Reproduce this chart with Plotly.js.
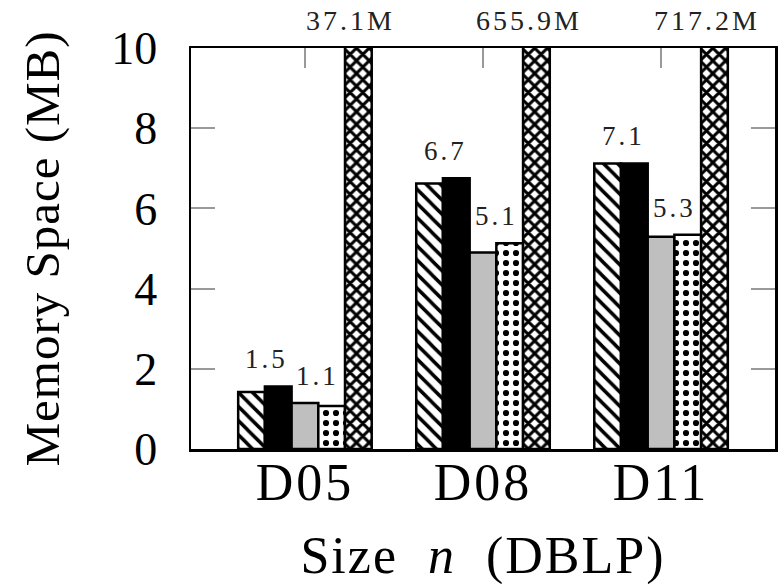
<!DOCTYPE html>
<html>
<head>
<meta charset="utf-8">
<script src="https://cdn.plot.ly/plotly-3.0.1.min.js"></script>
<style>
html,body{margin:0;padding:0;background:#fff;}
#chart{width:782px;height:585px;}
.xtitle{letter-spacing:2px;}
.ytitle{letter-spacing:1px;}
.xtick text{letter-spacing:3px;}
.annotation-text{letter-spacing:3px;}
</style>
</head>
<body>
<div id="chart"></div>
<script>
// ---- data ----
const categories = ['D05', 'D08', 'D11'];
const hatchVals = [1.42, 6.62, 7.12];
const blackVals = [1.56, 6.75, 7.12];
const grayVals  = [1.15, 4.90, 5.29];
const dotVals   = [1.07, 5.13, 5.34];
const crossVals = [37.1, 655.9, 717.2];
const leftLabels  = ['1.5', '6.7', '7.1'];
const rightLabels = ['1.1', '5.1', '5.3'];
const topLabels   = ['37.1M', '655.9M', '717.2M'];
const yTickVals = [0, 2, 4, 6, 8, 10];

const FONT = 'Liberation Serif, Times New Roman, serif';
const outline = {color: '#000', width: 2.5};

function barTrace(name, vals, color, pattern) {
  const m = {color: color, line: outline};
  if (pattern) m.pattern = pattern;
  return {type: 'bar', name: name, x: categories, y: vals, marker: m,
          hoverinfo: 'skip', cliponaxis: true};
}

const traces = [
  barTrace('A', hatchVals, '#fff', {shape: '\\', fgcolor: '#000', bgcolor: '#fff', size: 10, solidity: 0.35, fillmode: 'replace'}),
  barTrace('B', blackVals, '#000', null),
  barTrace('C', grayVals, '#bfbfbf', null),
  barTrace('D', dotVals, '#fff', {shape: '.', fgcolor: '#000', bgcolor: '#fff', size: 10, solidity: 0.3, fillmode: 'replace'}),
  barTrace('E', crossVals, '#fff', {shape: 'x', fgcolor: '#000', bgcolor: '#fff', size: 9, solidity: 0.55, fillmode: 'replace'})
];

const annotations = [];
categories.forEach((c, i) => {
  annotations.push({x: c, y: Math.max(hatchVals[i], blackVals[i]), xref: 'x', yref: 'y',
    text: leftLabels[i], showarrow: false, xshift: -38, yshift: 27, yanchor: 'middle',
    font: {family: FONT, size: 27, color: '#222'}});
  annotations.push({x: c, y: Math.max(grayVals[i], dotVals[i]), xref: 'x', yref: 'y',
    text: rightLabels[i], showarrow: false, xshift: 13, yshift: 27, yanchor: 'middle',
    font: {family: FONT, size: 27, color: '#222'}});
  annotations.push({x: c, y: 1, xref: 'x', yref: 'paper',
    text: topLabels[i], showarrow: false, xshift: 46, yshift: 10, yanchor: 'bottom',
    font: {family: FONT, size: 28, color: '#222'}});
});

const layout = {
  width: 782, height: 585,
  margin: {l: 191, r: 7, t: 48, b: 136},
  paper_bgcolor: '#fff', plot_bgcolor: '#fff',
  showlegend: false,
  barmode: 'group', bargap: 0.25, bargroupgap: 0,
  font: {family: FONT, color: '#000'},
  xaxis: {
    type: 'category', range: [-0.64, 2.64],
    showline: true, linecolor: '#000', linewidth: 2.5, mirror: 'allticks',
    ticks: 'inside', ticklen: 20, tickwidth: 2, tickcolor: '#999',
    layer: 'below traces', showgrid: false, zeroline: false, ticklabelstandoff: -14,
    tickfont: {family: FONT, size: 52, color: '#000'},
    title: {text: 'Size&nbsp;&nbsp;<i>n</i>&nbsp;&nbsp;(DBLP)', font: {family: FONT, size: 52, color: '#000'}, standoff: 28}
  },
  yaxis: {
    range: [0, 10], tickvals: yTickVals, ticktext: yTickVals.map(String),
    showline: true, linecolor: '#000', linewidth: 2.5, mirror: 'allticks',
    ticks: 'inside', ticklen: 24, tickwidth: 2, tickcolor: '#999',
    showgrid: false, zeroline: false, ticklabelstandoff: 22,
    tickfont: {family: FONT, size: 46, color: '#000'},
    title: {text: 'Memory Space (MB)', font: {family: FONT, size: 49, color: '#000'}, standoff: 36}
  },
  annotations: annotations
};

Plotly.newPlot('chart', traces, layout, {staticPlot: true, displayModeBar: false});
</script>
</body>
</html>
